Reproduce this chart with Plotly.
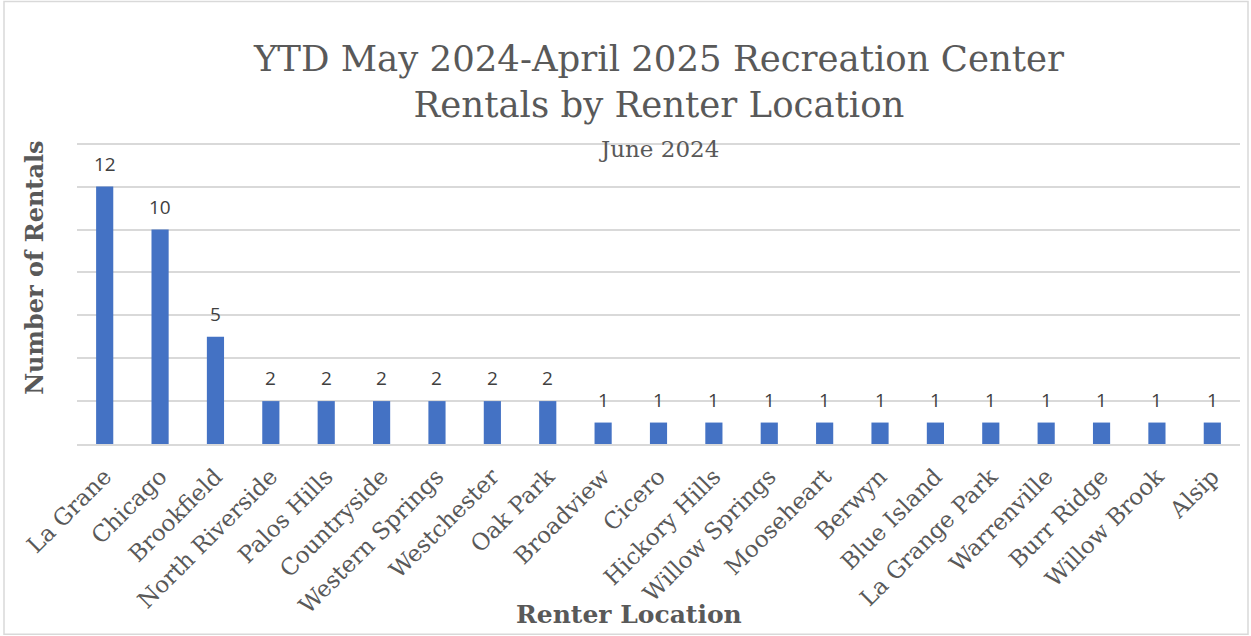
import plotly.graph_objects as go

locations = ["La Grane", "Chicago", "Brookfield", "North Riverside", "Palos Hills",
             "Countryside", "Western Springs", "Westchester", "Oak Park", "Broadview",
             "Cicero", "Hickory Hills", "Willow Springs", "Mooseheart", "Berwyn",
             "Blue Island", "La Grange Park", "Warrenville", "Burr Ridge", "Willow Brook",
             "Alsip"]
rentals = [12, 10, 5, 2, 2, 2, 2, 2, 2, 1, 1, 1, 1, 1, 1, 1, 1, 1, 1, 1, 1]

W, H = 1251, 636
Y_TOP = 14.5
BASE, PX_PER_UNIT = 444, 300 / 14
PH = PX_PER_UNIT * Y_TOP
ML, MR, MB = 77, 11, H - BASE
MT = H - MB - PH
PW = W - ML - MR

SERIF = "DejaVu Serif"
SANS = "Open Sans"


def px_x(x):
    return (x - ML) / PW


def px_y(y):
    return (BASE - y) / PH


fig = go.Figure()
fig.add_trace(go.Bar(
    x=locations, y=rentals,
    marker=dict(color="#4472C4", line=dict(width=0)),
    hoverinfo="x+y",
))

for loc, v in zip(locations, rentals):
    fig.add_annotation(x=loc, y=v, text=str(v), showarrow=False,
                       yanchor="bottom", yshift=8,
                       font=dict(family=SANS, size=19, color="#404040"))

fig.add_annotation(xref="paper", yref="paper", x=px_x(659), y=px_y(149),
                   text="June 2024", showarrow=False, yanchor="middle",
                   font=dict(family=SERIF, size=23, color="#595959"))

fig.add_annotation(xref="paper", yref="paper", x=px_x(35), y=px_y(268),
                   text="<b>Number of Rentals</b>", showarrow=False, textangle=-90,
                   xanchor="center", yanchor="middle",
                   font=dict(family=SERIF, size=24, color="#595959"))

fig.add_annotation(xref="paper", yref="paper", x=px_x(629), y=px_y(614),
                   text="<b>Renter Location</b>", showarrow=False,
                   xanchor="center", yanchor="middle",
                   font=dict(family=SERIF, size=25, color="#595959"))

fig.add_shape(type="rect", xref="paper", yref="paper",
              x0=px_x(4), x1=px_x(1248), y0=px_y(634), y1=px_y(2),
              line=dict(color="#d9d9d9", width=1.5), fillcolor="rgba(0,0,0,0)",
              layer="below")

fig.update_layout(
    width=W, height=H,
    margin=dict(l=ML, r=MR, t=MT, b=MB, autoexpand=False),
    paper_bgcolor="white", plot_bgcolor="white",
    bargap=0.69,
    showlegend=False,
    title=dict(text="YTD May 2024-April 2025 Recreation Center<br>Rentals by Renter Location",
               x=px_x(659), xanchor="center", xref="paper",
               y=1 - 71 / H, yanchor="middle", yref="container",
               font=dict(family=SERIF, size=35.5, color="#595959")),
    xaxis=dict(tickangle=-45, showgrid=False, showline=True, linecolor="#d9d9d9",
               linewidth=2, ticks="", ticklabelstandoff=8,
               tickfont=dict(family=SERIF, size=23, color="#595959")),
    yaxis=dict(range=[0, Y_TOP], tickvals=[0, 2, 4, 6, 8, 10, 12, 14],
               showgrid=True, gridcolor="#d9d9d9", gridwidth=2,
               showticklabels=False, zeroline=False, ticks=""),
)

fig.write_html("out.html", config={"displayModeBar": False},
               post_script="document.body.style.margin='0';")
